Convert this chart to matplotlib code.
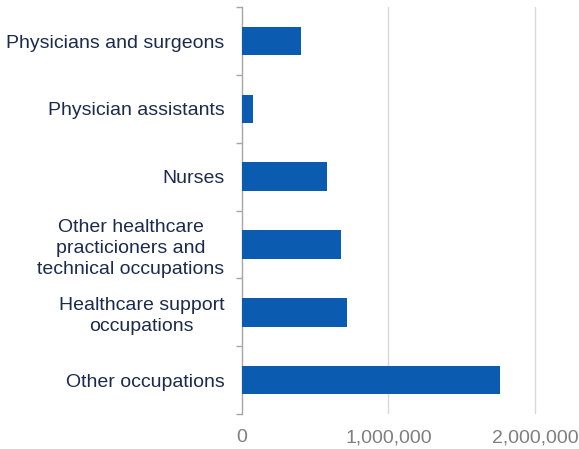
import numpy as np
import matplotlib.pyplot as plt
from matplotlib.ticker import FuncFormatter, FixedLocator

# employment by occupation group (top to bottom)
categories = [
    "Physicians and surgeons",
    "Physician assistants",
    "Nurses",
    "Other healthcare\npracticioners and\ntechnical occupations",
    "Healthcare support\noccupations",
    "Other occupations",
]
workers = [405000, 75000, 580000, 676000, 717000, 1761000]

bar_color = "#0b5cb1"
text_color = "#1c2b4c"

plt.rcParams["font.family"] = ["Liberation Sans", "DejaVu Sans"]

fig = plt.figure(figsize=(5.79, 4.49), dpi=100)
ax = fig.add_axes([0.4175, 0.078, 0.5825, 0.906])

y = np.arange(len(categories))
ax.barh(y, workers, height=0.42, color=bar_color, zorder=3)

ax.set_ylim(len(categories) - 0.5, -0.5)
ax.set_xlim(0, 2.3e6)

ax.xaxis.set_major_locator(FixedLocator([0, 1e6, 2e6]))
ax.xaxis.set_major_formatter(FuncFormatter(lambda v, p: f"{int(v):,}"))
ax.tick_params(axis="x", length=0, pad=11, labelsize=14, labelcolor="#7f7f7f")
ax.grid(axis="x", color="#d9d9d9", linewidth=1, zorder=0)

# category labels at bar centres, tick marks between categories
ax.set_yticks(y)
ax.set_yticklabels(categories, multialignment="center", linespacing=1.3)
ax.set_yticks(np.arange(len(categories) + 1) - 0.5, minor=True)
ax.tick_params(axis="y", which="major", length=0, pad=12.5, labelsize=14, labelcolor=text_color)
ax.tick_params(axis="y", which="minor", length=4, width=1, color="#a6a6a6")

for s in ["top", "right", "bottom"]:
    ax.spines[s].set_visible(False)
ax.spines["left"].set_color("#a6a6a6")
ax.spines["left"].set_linewidth(1)

# skip gridline at zero, spine covers it
ax.get_xgridlines()[0].set_visible(False)

fig.savefig("out.png", dpi=100)
